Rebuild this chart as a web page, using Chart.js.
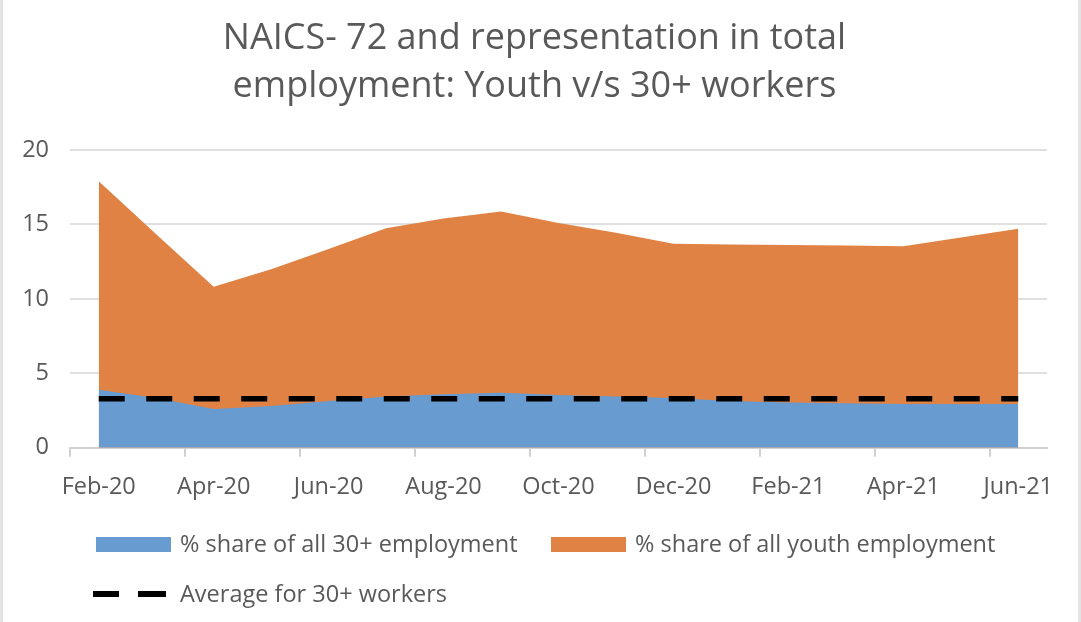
<!DOCTYPE html>
<html>
<head>
<meta charset="utf-8">
<title>NAICS 72 share of employment</title>
<script src="https://cdn.jsdelivr.net/npm/chart.js@4.4.0/dist/chart.umd.min.js"></script>
<style>
  html, body { margin: 0; padding: 0; background: #fff; }
  #wrap { position: relative; width: 1081px; height: 622px; overflow: hidden; }
  #chart { position: absolute; left: 0; top: 0; }
  .edge { position: absolute; top: 0; width: 3px; height: 622px; background: #e3e3e3; }
  #legend { position: absolute; left: 0; top: 0; font-family: "Open Sans", sans-serif; font-size: 23.5px; color: #595959; }
  .lg-text { position: absolute; white-space: nowrap; line-height: 28px; }
  .lg-box { position: absolute; width: 75px; height: 15px; }
  .lg-dash { position: absolute; height: 6px; background: #000; }
</style>
</head>
<body>
<div id="wrap">
  <canvas id="chart" width="1081" height="622"></canvas>
  <div id="legend"></div>
  <div class="edge" style="left:0"></div>
  <div class="edge" style="right:0"></div>
</div>
<script>
// Данные
const months = ['Feb-20', 'Mar-20', 'Apr-20', 'May-20', 'Jun-20', 'Jul-20', 'Aug-20', 'Sep-20',
                'Oct-20', 'Nov-20', 'Dec-20', 'Jan-21', 'Feb-21', 'Mar-21', 'Apr-21', 'May-21', 'Jun-21']

const share30    = [3.9, 3.35, 2.6, 2.8, 3.15, 3.45, 3.6, 3.7, 3.55, 3.45, 3.35, 3.15, 3.05, 3.0, 2.95, 2.95, 2.95]
const shareYouth = [14.0, 11.0, 8.22, 9.2, 10.2, 11.3, 11.8, 12.17, 11.55, 11.0, 10.36, 10.5, 10.57, 10.58, 10.58, 11.18, 11.77]
const avg30      = [3.3, 3.3, 3.3, 3.3, 3.3, 3.3, 3.3, 3.3, 3.3, 3.3, 3.3, 3.3, 3.3, 3.3, 3.3, 3.3, 3.3]

const titleLines = ['NAICS- 72 and representation in total', 'employment: Youth v/s 30+ workers']
const seriesNames = ['% share of all 30+ employment', '% share of all youth employment', 'Average for 30+ workers']

const BLUE   = '#689bcf'
const ORANGE = '#e08244'
const TEXT   = '#595959'

Chart.defaults.font.family = '"Open Sans", sans-serif'
Chart.defaults.color = TEXT

new Chart(document.getElementById('chart'), {
    type: 'line',
    data: {
        labels: months,
        datasets: [
            {
                label: seriesNames[0],
                data: share30,
                backgroundColor: BLUE,
                borderColor: 'transparent',
                borderWidth: 0,
                pointRadius: 0,
                fill: 'origin',
                order: 1,
            },
            {
                label: seriesNames[1],
                data: shareYouth,
                backgroundColor: ORANGE,
                borderColor: 'transparent',
                borderWidth: 0,
                pointRadius: 0,
                fill: 'origin',
                order: 2,
            },
            {
                label: seriesNames[2],
                data: avg30,
                stack: 'avg',
                borderColor: '#000',
                borderWidth: 5.5,
                borderDash: [26, 21.5],
                borderCapStyle: 'butt',
                pointRadius: 0,
                fill: false,
                order: 0,
            },
        ]
    },
    options: {
        responsive: false,
        animation: false,
        layout: { padding: { left: 22, right: 34, top: 0, bottom: 105 } },
        plugins: {
            legend: { display: false },
            tooltip: { enabled: false },
            title: {
                display: true,
                text: titleLines,
                color: TEXT,
                font: { size: 36, weight: 'normal', lineHeight: 1.32 },
                padding: { top: 15, bottom: 40 },
            },
        },
        scales: {
            x: {
                offset: true,
                grid: {
                    offset: true,
                    drawOnChartArea: false,
                    tickLength: 9,
                    lineWidth: 2,
                    // засечки только между парами месяцев
                    color: ctx => (ctx.tick && ctx.index % 2 === 0) ? '#d0d0d0' : 'transparent',
                },
                border: { color: '#d0d0d0', width: 2 },
                ticks: {
                    autoSkip: false,
                    maxRotation: 0,
                    padding: 16,
                    font: { size: 23.5 },
                    color: TEXT,
                    callback: (v, i) => i % 2 === 0 ? months[i] : '',
                },
            },
            y: {
                stacked: true,
                min: 0,
                max: 20,
                border: { display: false },
                grid: { color: '#e0e0e0', lineWidth: 2, drawTicks: false },
                ticks: { stepSize: 5, padding: 21, font: { size: 23.5 }, color: TEXT },
                // ширина оси под подписи фиксированная
                afterFit: scale => { scale.width = 48 },
            },
        }
    }
})

// Легенда
const legend = document.getElementById('legend')
const items = [
    { x: 96,  y: 545, kind: 'box',  color: BLUE,   text: seriesNames[0] },
    { x: 551, y: 545, kind: 'box',  color: ORANGE, text: seriesNames[1] },
    { x: 96,  y: 595, kind: 'dash', color: '#000', text: seriesNames[2] },
]
items.forEach(it => {
    if (it.kind === 'box') {
        const b = document.createElement('div')
        b.className = 'lg-box'
        b.style.left = it.x + 'px'
        b.style.top = (it.y - 8) + 'px'
        b.style.background = it.color
        legend.appendChild(b)
    } else {
        [[-3, 26], [42, 28]].forEach(([dx, w]) => {
            const d = document.createElement('div')
            d.className = 'lg-dash'
            d.style.left = (it.x + dx) + 'px'
            d.style.width = w + 'px'
            d.style.top = (it.y - 4) + 'px'
            legend.appendChild(d)
        })
    }
    const t = document.createElement('div')
    t.className = 'lg-text'
    t.style.left = (it.x + 84) + 'px'
    t.style.top = (it.y - 16) + 'px'
    t.textContent = it.text
    legend.appendChild(t)
})
</script>
</body>
</html>
